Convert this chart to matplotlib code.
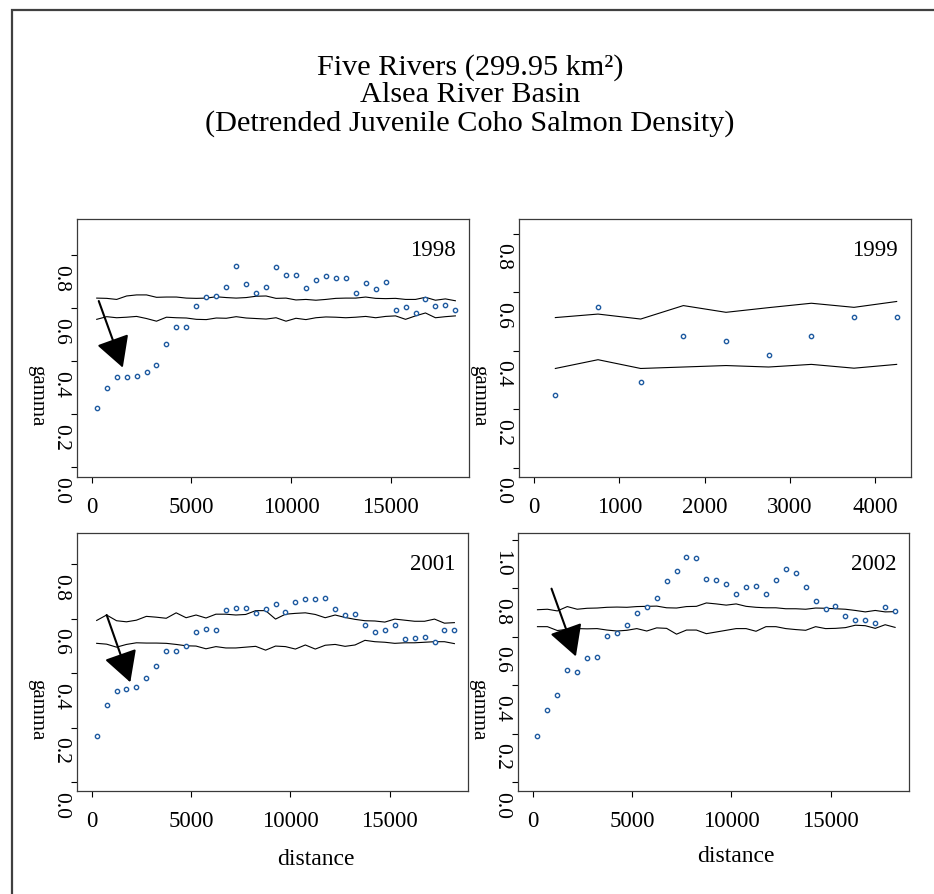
import matplotlib
matplotlib.use("Agg")
import matplotlib.pyplot as plt
import matplotlib.transforms as mtransforms
from matplotlib.patches import Rectangle

plt.rcParams['font.family'] = ['Liberation Serif', 'DejaVu Serif']

DPI = 100
W, H = 934, 895

# lag distances (m)
lag = [250, 750, 1250, 1750, 2250, 2750, 3250, 3750, 4250, 4750, 5250, 5750,
       6250, 6750, 7250, 7750, 8250, 8750, 9250, 9750, 10250, 10750, 11250,
       11750, 12250, 12750, 13250, 13750, 14250, 14750, 15250, 15750, 16250,
       16750, 17250, 17750, 18250]
lag_1999 = [250, 750, 1250, 1750, 2250, 2750, 3250, 3750, 4250]

# 1998
gamma_1998 = [0.223, 0.301, 0.340, 0.342, 0.344, 0.359, 0.385, 0.464, 0.530, 0.528,
              0.607, 0.643, 0.646, 0.678, 0.759, 0.693, 0.657, 0.681, 0.754, 0.726,
              0.725, 0.675, 0.705, 0.722, 0.712, 0.712, 0.656, 0.695, 0.671, 0.698,
              0.594, 0.604, 0.581, 0.634, 0.608, 0.613, 0.592]
upper_1998 = [0.638, 0.637, 0.633, 0.646, 0.650, 0.650, 0.641, 0.642, 0.642, 0.638,
              0.637, 0.638, 0.643, 0.640, 0.638, 0.640, 0.645, 0.646, 0.637, 0.638,
              0.631, 0.633, 0.630, 0.633, 0.637, 0.638, 0.638, 0.642, 0.637, 0.636,
              0.637, 0.633, 0.633, 0.641, 0.630, 0.635, 0.628]
lower_1998 = [0.558, 0.568, 0.564, 0.566, 0.569, 0.561, 0.551, 0.566, 0.564, 0.563,
              0.558, 0.557, 0.563, 0.562, 0.568, 0.563, 0.561, 0.559, 0.564, 0.551,
              0.562, 0.557, 0.564, 0.567, 0.566, 0.564, 0.566, 0.569, 0.564, 0.569,
              0.571, 0.558, 0.571, 0.582, 0.564, 0.568, 0.571]

# 1999
gamma_1999 = [0.250, 0.550, 0.294, 0.452, 0.434, 0.386, 0.450, 0.516, 0.515]
upper_1999 = [0.514, 0.526, 0.509, 0.555, 0.532, 0.548, 0.563, 0.549, 0.569]
lower_1999 = [0.340, 0.370, 0.340, 0.345, 0.350, 0.345, 0.354, 0.341, 0.354]

# 2001
gamma_2001 = [0.170, 0.283, 0.334, 0.341, 0.347, 0.383, 0.426, 0.482, 0.481, 0.500,
              0.549, 0.563, 0.557, 0.630, 0.640, 0.640, 0.620, 0.634, 0.653, 0.625,
              0.659, 0.672, 0.673, 0.676, 0.636, 0.614, 0.618, 0.576, 0.549, 0.557,
              0.576, 0.524, 0.530, 0.533, 0.515, 0.558, 0.559]
upper_2001 = [0.593, 0.613, 0.592, 0.588, 0.594, 0.608, 0.605, 0.601, 0.621, 0.603,
              0.613, 0.602, 0.616, 0.616, 0.613, 0.615, 0.629, 0.629, 0.598, 0.616,
              0.619, 0.621, 0.615, 0.603, 0.613, 0.604, 0.597, 0.592, 0.591, 0.587,
              0.598, 0.594, 0.590, 0.590, 0.598, 0.583, 0.585]
lower_2001 = [0.509, 0.506, 0.495, 0.505, 0.511, 0.510, 0.510, 0.509, 0.505, 0.500,
              0.499, 0.489, 0.497, 0.492, 0.492, 0.495, 0.498, 0.484, 0.499, 0.497,
              0.488, 0.503, 0.488, 0.502, 0.505, 0.498, 0.503, 0.520, 0.515, 0.513,
              0.509, 0.511, 0.511, 0.513, 0.515, 0.515, 0.508]

# 2002
gamma_2002 = [0.191, 0.299, 0.360, 0.464, 0.453, 0.513, 0.517, 0.602, 0.617, 0.648,
              0.698, 0.722, 0.759, 0.829, 0.871, 0.929, 0.925, 0.840, 0.833, 0.818,
              0.777, 0.804, 0.812, 0.777, 0.834, 0.881, 0.864, 0.807, 0.748, 0.715,
              0.729, 0.685, 0.671, 0.668, 0.659, 0.722, 0.705]
upper_2002 = [0.712, 0.714, 0.707, 0.725, 0.714, 0.718, 0.719, 0.722, 0.723, 0.722,
              0.725, 0.726, 0.727, 0.720, 0.719, 0.725, 0.726, 0.740, 0.736, 0.731,
              0.736, 0.726, 0.722, 0.720, 0.720, 0.716, 0.716, 0.714, 0.719, 0.718,
              0.716, 0.714, 0.709, 0.703, 0.709, 0.703, 0.704]
lower_2002 = [0.642, 0.642, 0.626, 0.631, 0.634, 0.633, 0.634, 0.628, 0.624, 0.627,
              0.634, 0.624, 0.637, 0.635, 0.611, 0.628, 0.628, 0.613, 0.620, 0.627,
              0.634, 0.634, 0.623, 0.642, 0.642, 0.634, 0.630, 0.627, 0.642, 0.634,
              0.635, 0.638, 0.648, 0.646, 0.635, 0.650, 0.639]

# arrows (tail, tip) in data units
arrow_1998 = [(352, 0.627), (1558, 0.376)]
arrow_2001 = [(753, 0.613), (1942, 0.366)]
arrow_2002 = [(957, 0.799), (2183, 0.519)]

years = ['1998', '1999', '2001', '2002']
title_lines = ['Five Rivers (299.95 km\u00b2)', 'Alsea River Basin',
               '(Detrended Juvenile Coho Salmon Density)']

long_ticks = [0, 5000, 10000, 15000]
short_ticks = [0, 1000, 2000, 3000, 4000]
yticks_08 = [0.0, 0.2, 0.4, 0.6, 0.8]
yticks_10 = [0.0, 0.2, 0.4, 0.6, 0.8, 1.0]

panels = [
    # box in pixels (left, top, right, bottom)
    dict(box=(77, 220, 469, 478), x=lag, g=gamma_1998, up=upper_1998, lo=lower_1998,
         xlim=(-740, 18935), ylim=(-0.036, 0.936), xt=long_ticks, yt=yticks_08,
         arrow=arrow_1998, xlabel=None),
    dict(box=(519, 220, 911, 478), x=lag_1999, g=gamma_1999, up=upper_1999, lo=lower_1999,
         xlim=(-176, 4418), ylim=(-0.031, 0.851), xt=short_ticks, yt=yticks_08,
         arrow=None, xlabel=None),
    dict(box=(77, 534, 468, 792), x=lag, g=gamma_2001, up=upper_2001, lo=lower_2001,
         xlim=(-740, 18935), ylim=(-0.033, 0.914), xt=long_ticks, yt=yticks_08,
         arrow=arrow_2001, xlabel=(43, 73)),
    dict(box=(518, 534, 909, 792), x=lag, g=gamma_2002, up=upper_2002, lo=lower_2002,
         xlim=(-730, 18950), ylim=(-0.037, 1.029), xt=long_ticks, yt=yticks_10,
         arrow=arrow_2002, xlabel=(22, 70)),
]


def pt(pixels):
    return pixels * 72.0 / DPI


fig = plt.figure(figsize=(W / DPI, H / DPI), dpi=DPI)
fig.patch.set_facecolor('white')

# outer frame (only left and top edges are inside the picture)
fig.add_artist(Rectangle((12 / W, -0.1), 1.2, 1 - 11 / H + 0.1, transform=fig.transFigure,
                         fill=False, ec='#404040', lw=1.6))

fig.text(470 / W, 1 - 54 / H, '\n'.join(title_lines), ha='center', va='top',
         multialignment='center', fontsize=21.8, linespacing=1.07)

for p, year in zip(panels, years):
    l, t, r, b = p['box']
    ax = fig.add_axes([l / W, 1 - b / H, (r - l) / W, (b - t) / H])
    ax.plot(p['x'], p['up'], color='black', lw=0.8)
    ax.plot(p['x'], p['lo'], color='black', lw=0.8)
    ax.plot(p['x'], p['g'], 'o', ls='none', ms=3.1, mfc='white', mec='#1e5aa0', mew=1.0)
    ax.set_xlim(p['xlim'])
    ax.set_ylim(p['ylim'])
    ax.set_xticks(p['xt'])
    ax.set_xticklabels([str(v) for v in p['xt']])
    ax.set_yticks(p['yt'])
    ax.tick_params(direction='out', length=pt(6), width=0.8, color='black',
                   labelsize=16.5, labelleft=False)
    ax.tick_params(axis='x', pad=pt(13))
    for sp in ax.spines.values():
        sp.set_color('#3a3a3a')
        sp.set_linewidth(0.9)

    # rotated y tick labels, shifted down like the original device output
    ytr = mtransforms.offset_copy(ax.get_yaxis_transform(), fig=fig, x=-16, y=-22, units='dots')
    for v in p['yt']:
        ax.text(0, v, f'{v:.1f}', transform=ytr, rotation=-90, ha='center', va='center',
                fontsize=15.5, clip_on=False)

    gtr = mtransforms.offset_copy(ax.transAxes, fig=fig, x=-40, y=-47, units='dots')
    ax.text(0, 0.5, 'gamma', transform=gtr, rotation=-90, ha='center', va='center',
            fontsize=15, clip_on=False)

    yrtr = mtransforms.offset_copy(ax.transAxes, fig=fig, x=-13, y=-36, units='dots')
    ax.text(1, 1, year, transform=yrtr, ha='right', va='baseline', fontsize=16.5)

    if p['xlabel'] is not None:
        dx, dy = p['xlabel']
        dtr = mtransforms.offset_copy(ax.transAxes, fig=fig, x=dx, y=-dy, units='dots')
        ax.text(0.5, 0, 'distance', transform=dtr, ha='center', va='baseline',
                fontsize=17, clip_on=False)

    if p['arrow'] is not None:
        tail, tip = p['arrow']
        ax.annotate('', xy=tip, xytext=tail,
                    arrowprops=dict(arrowstyle='-|>,head_length=19,head_width=10.5',
                                    mutation_scale=1, color='black', lw=1.5,
                                    shrinkA=0, shrinkB=0))

fig.savefig('out.png', dpi=DPI)
